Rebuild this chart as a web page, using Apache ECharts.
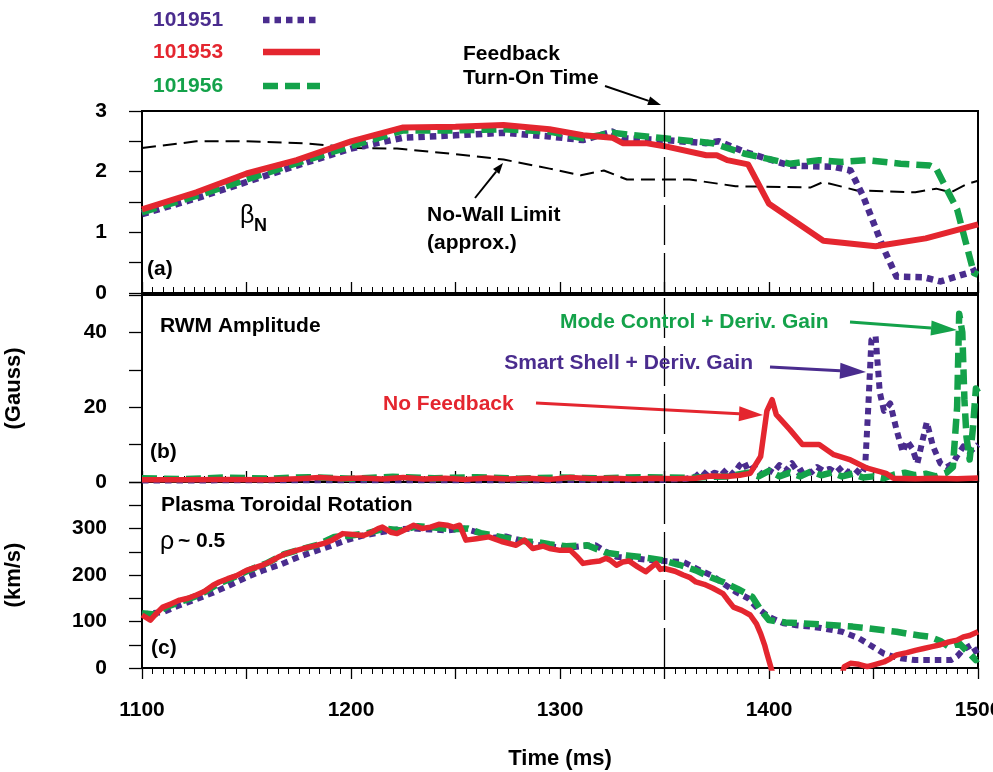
<!DOCTYPE html>
<html>
<head>
<meta charset="utf-8">
<title>Feedback RWM</title>
<script src="https://cdn.jsdelivr.net/npm/echarts@6/dist/echarts.min.js"></script>
<style>
  html, body { margin: 0; padding: 0; background: #fff; }
  #chart { width: 993px; height: 772px; }
</style>
</head>
<body>
<div id="chart"></div>
<script>
// colours of the three shots
const PURPLE = '#4a2c8e';
const RED = '#e4262f';
const GREEN = '#14a24a';
const FONT = '"Liberation Sans", Arial, sans-serif';

const shotNames = ['101951', '101953', '101956'];
const xTicks = [1100, 1200, 1300, 1400, 1500];
const feedbackOn = 1350;

// (a) beta_N
const beta51 = [[1100,1.30],[1126,1.56],[1150,1.83],[1174,2.10],[1200,2.38],[1225,2.56],[1250,2.60],[1273,2.64],[1295,2.58],[1311,2.52],[1325,2.66],[1331,2.55],[1350,2.52],[1370,2.47],[1376,2.50],[1388,2.33],[1410,2.10],[1431,2.08],[1439,2.02],[1445,1.60],[1455,0.72],[1461,0.27],[1474,0.26],[1482,0.19],[1498,0.36],[1500,0.40]];
const beta53 = [[1100,1.38],[1126,1.66],[1150,1.97],[1174,2.19],[1200,2.50],[1225,2.73],[1250,2.74],[1273,2.77],[1295,2.70],[1311,2.60],[1325,2.56],[1330,2.47],[1341,2.47],[1350,2.42],[1370,2.27],[1375,2.27],[1380,2.19],[1390,2.12],[1400,1.47],[1426,0.86],[1451,0.77],[1475,0.90],[1500,1.13]];
const beta56 = [[1100,1.33],[1126,1.60],[1150,1.87],[1174,2.14],[1200,2.42],[1225,2.68],[1250,2.68],[1273,2.70],[1295,2.66],[1311,2.55],[1325,2.64],[1350,2.55],[1373,2.47],[1388,2.30],[1410,2.13],[1424,2.19],[1435,2.16],[1447,2.19],[1463,2.13],[1477,2.10],[1480,2.05],[1490,1.38],[1498,0.33],[1500,0.30]];
const noWall = [[1100,2.39],[1126,2.50],[1150,2.50],[1177,2.47],[1203,2.39],[1222,2.38],[1247,2.30],[1273,2.20],[1295,2.05],[1310,1.94],[1321,2.02],[1332,1.87],[1362,1.87],[1384,1.76],[1420,1.74],[1426,1.83],[1442,1.69],[1470,1.66],[1480,1.72],[1487,1.66],[1495,1.80],[1500,1.85]];

// (b) RWM amplitude (Gauss)
const rwm51 = [[1100,0.4],[1200,0.5],[1300,0.5],[1350,0.6],[1360,0.8],[1365,1.5],[1368,3],[1371,1.5],[1374,2.5],[1377,1.8],[1380,3.5],[1383,2],[1386,4.5],[1388,5.5],[1390,3],[1393,4],[1396,2],[1399,3.5],[1402,2.5],[1405,4.5],[1408,3],[1411,5],[1414,2.5],[1417,3.5],[1420,2.5],[1423,4],[1426,3],[1429,3.5],[1432,2.5],[1435,4],[1438,2.5],[1441,3.5],[1444,2],[1446,4],[1447.5,20],[1449,38],[1451,39],[1453,24],[1455,19],[1458,21],[1461,14],[1464,8],[1466,11],[1468.5,9],[1471,5],[1473,10],[1475.5,16],[1478.5,9.5],[1482,5],[1485,4],[1488,5],[1490,7],[1493,9.5],[1496,8],[1500,10]];
const rwm53 = [[1100,0.6],[1120,0.6],[1140,0.7],[1160,0.6],[1175,0.9],[1185,1.2],[1195,0.9],[1205,1.1],[1215,0.8],[1225,1.2],[1235,0.8],[1245,1.0],[1255,0.7],[1265,1.1],[1275,0.8],[1285,1.0],[1295,0.7],[1305,1.2],[1315,0.9],[1325,1.0],[1335,0.8],[1345,1.0],[1355,0.9],[1365,1.0],[1372,1.6],[1380,1.5],[1386,1.8],[1391,2.3],[1396,6.8],[1399,19],[1401.5,22],[1403.5,18],[1410,14],[1416,10],[1424,10],[1431,7.3],[1439,5.9],[1447,3.7],[1456,2.3],[1459.5,1.0],[1470,0.9],[1480,1.0],[1490,0.9],[1500,1.1]];
const rwm56 = [[1100,1.0],[1120,0.8],[1140,1.2],[1160,0.9],[1180,1.3],[1200,0.9],[1220,1.4],[1240,1.0],[1260,1.3],[1280,0.9],[1300,1.2],[1320,1.0],[1340,1.3],[1360,1.1],[1380,1.5],[1390,2.5],[1395,1.5],[1400,3],[1405,1.5],[1410,2.5],[1415,1.5],[1420,2.8],[1425,1.8],[1430,2.5],[1435,1.5],[1440,2.2],[1445,1.2],[1450,1.5],[1455,1.0],[1460,2.0],[1465,2.5],[1470,1.8],[1475,2.2],[1480,1.5],[1485,2.5],[1488,4],[1490,20],[1491,45],[1492.5,40],[1493.5,22],[1494.5,12],[1496,6],[1497.5,14],[1499,25],[1500,24]];

// (c) plasma toroidal rotation (km/s)
const rot51 = [[1100,115],[1105,118],[1110,120],[1118,135],[1126,148],[1134,162],[1142,178],[1150,195],[1158,210],[1166,222],[1174,237],[1182,250],[1190,262],[1198,275],[1206,285],[1214,292],[1222,298],[1230,300],[1238,298],[1246,296],[1254,300],[1262,290],[1268,280],[1274,283],[1280,276],[1287,266],[1295,262],[1303,258],[1310,262],[1317,264],[1322,250],[1327,239],[1335,236],[1343,232],[1350,230],[1359,228],[1367,210],[1373,198],[1378,182],[1384,164],[1390,150],[1394,131],[1400,110],[1407,96],[1413,92],[1420,89],[1425,86],[1431,81],[1435,78],[1439,71],[1443,64],[1447,53],[1451,42],[1455,31],[1459,25],[1463,21],[1470,17],[1478,17],[1487,17],[1490,25],[1493,40],[1497,50],[1500,28]];
const rot53 = [[1100,114],[1104,103],[1107,118],[1110,131],[1114,138],[1118,146],[1122,150],[1126,157],[1130,165],[1134,178],[1137,185],[1141,192],[1145,198],[1150,210],[1154,216],[1158,222],[1161,228],[1165,238],[1169,246],[1174,253],[1178,258],[1182,262],[1187,268],[1191,275],[1196,289],[1201,287],[1206,285],[1210,292],[1213,300],[1215,303],[1219,292],[1222,289],[1226,298],[1230,307],[1234,300],[1238,303],[1242,309],[1246,307],[1249,303],[1252,307],[1255,275],[1260,278],[1266,282],[1272,272],[1279,264],[1283,275],[1287,257],[1292,262],[1295,257],[1300,253],[1305,253],[1308,240],[1311,225],[1315,228],[1319,230],[1322,236],[1324,232],[1327,221],[1330,228],[1333,230],[1337,218],[1341,207],[1344,218],[1346,225],[1348,212],[1350,214],[1355,208],[1359,200],[1362,195],[1365,185],[1369,180],[1373,172],[1378,160],[1380,148],[1383,131],[1387,124],[1391,114],[1394,95],[1396,74],[1398,48],[1399,31],[1401,0],[1403,-30],[1434,-30],[1436,3],[1439,10],[1443,8],[1447,3],[1451,8],[1455,13],[1458,20],[1461,28],[1466,33],[1470,38],[1474,42],[1478,46],[1482,50],[1486,56],[1490,60],[1493,67],[1496,70],[1500,78]];
const rot56 = [[1100,118],[1106,115],[1112,132],[1120,145],[1128,158],[1136,180],[1144,195],[1152,212],[1160,226],[1168,245],[1176,255],[1184,265],[1192,282],[1200,285],[1208,290],[1216,300],[1224,296],[1232,305],[1240,302],[1248,298],[1256,300],[1262,290],[1268,285],[1276,278],[1284,272],[1290,270],[1295,266],[1303,262],[1313,264],[1322,248],[1332,242],[1340,238],[1349,232],[1357,222],[1365,210],[1372,195],[1378,185],[1385,170],[1392,153],[1396,125],[1400,103],[1408,98],[1416,96],[1424,94],[1431,92],[1440,89],[1448,85],[1455,81],[1461,78],[1466,74],[1472,70],[1477,67],[1482,58],[1486,46],[1491,53],[1495,35],[1499,17],[1500,20]];

const chart = echarts.init(document.getElementById('chart'));

const lblFont = { color: '#000', fontWeight: 'bold', fontSize: 21, fontFamily: FONT };

function xAxisFor(idx, showLabels) {
  return {
    gridIndex: idx, type: 'value', min: 1100, max: 1500, interval: 50,
    axisLine: { show: true, lineStyle: { color: '#000', width: 2 } },
    axisTick: { show: true, inside: !showLabels, length: 11, lineStyle: { color: '#000', width: 1.3 } },
    minorTick: { show: true, splitNumber: 10, length: 6, lineStyle: { color: '#000', width: 1 } },
    splitLine: { show: false },
    axisLabel: showLabels ? Object.assign({
      margin: 32,
      formatter: v => xTicks.indexOf(v) >= 0 ? String(v) : ''
    }, lblFont) : { show: false },
    name: showLabels ? 'Time (ms)' : '',
    nameLocation: 'middle', nameGap: 80,
    nameTextStyle: { color: '#000', fontWeight: 'bold', fontSize: 22, fontFamily: FONT }
  };
}

function yAxisFor(idx, max, step, every, name) {
  return {
    gridIndex: idx, type: 'value', min: 0, max: max, interval: step,
    axisLine: { show: true, lineStyle: { color: '#000', width: 2 } },
    axisTick: { show: true, length: 13, lineStyle: { color: '#000', width: 1.3 } },
    splitLine: { show: false },
    axisLabel: Object.assign({
      margin: 35,
      formatter: v => (Math.abs(v / every - Math.round(v / every)) < 1e-6 && v < max) || (idx === 0 && v === max) ? String(v) : ''
    }, lblFont),
    name: name, nameLocation: 'middle', nameRotate: 90, nameGap: 117,
    nameTextStyle: { color: '#000', fontWeight: 'bold', fontSize: 22, fontFamily: FONT }
  };
}

const vline = {
  silent: true, symbol: 'none', label: { show: false },
  lineStyle: { color: '#000', width: 1.3, type: [40, 8] },
  data: [{ xAxis: feedbackOn }]
};

function line(name, data, idx, color, type, width, extra) {
  return Object.assign({
    name: name, type: 'line', data: data, xAxisIndex: idx, yAxisIndex: idx,
    symbol: 'none', smooth: false, clip: true,
    lineStyle: { color: color, width: width, type: type, cap: 'butt', join: 'round' }
  }, extra || {});
}

function arrow(x1, y1, x2, y2, color, lw, hl, hw) {
  const a = Math.atan2(y2 - y1, x2 - x1);
  const bx = x2 - hl * Math.cos(a), by = y2 - hl * Math.sin(a);
  const px = -Math.sin(a) * hw / 2, py = Math.cos(a) * hw / 2;
  return [
    { type: 'line', silent: true, shape: { x1: x1, y1: y1, x2: bx, y2: by }, style: { stroke: color, lineWidth: lw } },
    { type: 'polygon', silent: true, shape: { points: [[x2, y2], [bx + px, by + py], [bx - px, by - py]] }, style: { fill: color } }
  ];
}

function txt(s, x, y, color, size, weight, align) {
  return { type: 'text', silent: true, z: 100, style: {
    text: s, x: x, y: y, fill: color, align: align || 'left', verticalAlign: 'middle',
    font: (weight || 'bold') + ' ' + size + 'px ' + FONT
  } };
}

const legendColors = [PURPLE, RED, GREEN];
const legendDash = [[6.5, 5], null, [15, 7]];
const graphics = [];
shotNames.forEach((n, i) => {
  const y = [20, 52, 86][i];
  graphics.push(txt(n, 153, y, legendColors[i], 21));
  graphics.push({ type: 'line', silent: true, shape: { x1: 263, y1: y, x2: 320, y2: y },
    style: { stroke: legendColors[i], lineWidth: 6.5, lineDash: legendDash[i] } });
});
graphics.push(
  txt('Feedback', 463, 54, '#000', 21),
  txt('Turn-On Time', 463, 78, '#000', 21),
  txt('(a)', 147, 269, '#000', 21),
  txt('β', 240, 216, '#000', 25, 'normal'),
  txt('N', 254, 226, '#000', 18),
  txt('No-Wall Limit', 427, 215, '#000', 21),
  txt('(approx.)', 427, 243, '#000', 21),
  txt('RWM Amplitude', 160, 326, '#000', 21),
  txt('(b)', 150, 452, '#000', 21),
  txt('Mode Control + Deriv. Gain', 560, 322, GREEN, 21),
  txt('Smart Shell + Deriv. Gain', 753, 363, PURPLE, 21, 'bold', 'right'),
  txt('No Feedback', 383, 404, RED, 21),
  txt('Plasma Toroidal Rotation', 161, 505, '#000', 21),
  txt('ρ', 160, 542, '#000', 25, 'normal'),
  txt('~ 0.5', 178, 541, '#000', 21),
  txt('(c)', 151, 648, '#000', 21)
);
graphics.push.apply(graphics, arrow(605, 86, 661, 105, '#000', 2, 13, 9));
graphics.push.apply(graphics, arrow(475, 198, 503, 163, '#000', 2, 11, 8));
graphics.push.apply(graphics, arrow(850, 322, 957, 330, GREEN, 3, 26, 15));
graphics.push.apply(graphics, arrow(770, 367, 866, 372, PURPLE, 3, 26, 16));
graphics.push.apply(graphics, arrow(536, 403, 763, 415, RED, 3, 24, 15));

const gridBase = { left: 142, right: 15, show: true, borderColor: '#000', borderWidth: 2,
  backgroundColor: 'transparent', containLabel: false, outerBoundsMode: 'none' };

const option = {
  animation: false,
  backgroundColor: '#fff',
  grid: [
    Object.assign({ top: 111, height: 182 }, gridBase),
    Object.assign({ top: 295, height: 187 }, gridBase),
    Object.assign({ top: 482, height: 186 }, gridBase)
  ],
  xAxis: [xAxisFor(0, false), xAxisFor(1, false), xAxisFor(2, true)],
  yAxis: [
    yAxisFor(0, 3, 0.5, 1, ''),
    yAxisFor(1, 50, 10, 20, '(Gauss)'),
    yAxisFor(2, 400, 50, 100, '(km/s)')
  ],
  series: [
    line('No-Wall Limit', noWall, 0, '#000', [14, 7], 2, { markLine: vline }),
    line(shotNames[0], beta51, 0, PURPLE, [6.5, 5], 6.5),
    line(shotNames[2], beta56, 0, GREEN, [15, 7], 6.5),
    line(shotNames[1], beta53, 0, RED, 'solid', 6),

    line(shotNames[0], rwm51, 1, PURPLE, [6.5, 5], 6),
    line(shotNames[2], rwm56, 1, GREEN, [15, 7], 6.5),
    line(shotNames[1], rwm53, 1, RED, 'solid', 5.5, { markLine: vline }),

    line(shotNames[0], rot51, 2, PURPLE, [6.5, 5], 6),
    line(shotNames[2], rot56, 2, GREEN, [15, 7], 6.5),
    line(shotNames[1], rot53, 2, RED, 'solid', 5.5, { markLine: vline })
  ],
  graphic: graphics
};

chart.setOption(option);
</script>
</body>
</html>
